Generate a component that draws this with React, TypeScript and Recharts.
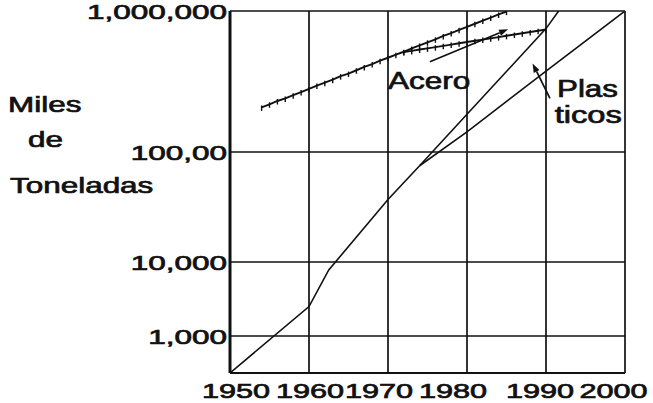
import React from 'react';
import { LineChart, Line, XAxis, YAxis, CartesianGrid, ReferenceLine, ReferenceDot } from 'recharts';

// ---- data (miles de toneladas) ----
const YEAR_TICKS = [1950, 1960, 1970, 1980, 1990, 2000];
const VALUE_TICKS = [1000, 10000, 100000, 1000000];
const VALUE_TICK_LABELS = ['1,000', '10,000', '100,00', '1,000,000'];

const plasticosTronco = [
  { year: 1950, value: 100 },
  { year: 1960, value: 2500 },
  { year: 1962.5, value: 7800 },
  { year: 1970, value: 37000 },
  { year: 1974, value: 75000 },
];
const plasticosAlto = [
  { year: 1974, value: 75000 },
  { year: 1980, value: 185000 },
  { year: 1990, value: 750000 },
  { year: 1991.6, value: 1000000 },
];
const plasticosBajo = [
  { year: 1974, value: 75000 },
  { year: 1980, value: 139000 },
  { year: 1990, value: 375000 },
  { year: 2000, value: 1000000 },
];
const aceroA = [
  { year: 1954, value: 207000 }, { year: 1955, value: 218000 }, { year: 1956, value: 230000 },
  { year: 1957, value: 240000 }, { year: 1958, value: 253000 }, { year: 1959, value: 266000 },
  { year: 1960, value: 280000 }, { year: 1961, value: 296000 }, { year: 1962, value: 310000 },
  { year: 1963, value: 326000 }, { year: 1964, value: 345000 }, { year: 1965, value: 360000 },
  { year: 1966, value: 380000 }, { year: 1967, value: 401000 }, { year: 1968, value: 420000 },
  { year: 1969, value: 444000 }, { year: 1970, value: 466000 }, { year: 1971, value: 490000 },
  { year: 1972, value: 514000 }, { year: 1973, value: 543000 }, { year: 1974, value: 570000 },
  { year: 1975, value: 600000 }, { year: 1976, value: 630000 }, { year: 1977, value: 665000 },
  { year: 1978, value: 698000 }, { year: 1979, value: 735000 }, { year: 1980, value: 773000 },
  { year: 1981, value: 812000 }, { year: 1982, value: 856000 }, { year: 1983, value: 898000 },
  { year: 1984, value: 945000 }, { year: 1985, value: 990000 },
];
const aceroB = [
  { year: 1972, value: 512000 }, { year: 1973, value: 521000 }, { year: 1974, value: 533000 },
  { year: 1975, value: 543000 }, { year: 1976, value: 554000 }, { year: 1977, value: 566000 },
  { year: 1978, value: 578000 }, { year: 1979, value: 590000 }, { year: 1980, value: 603000 },
  { year: 1981, value: 615000 }, { year: 1982, value: 627000 }, { year: 1983, value: 640000 },
  { year: 1984, value: 653000 }, { year: 1985, value: 667000 }, { year: 1986, value: 681000 },
  { year: 1987, value: 695000 }, { year: 1988, value: 710000 }, { year: 1989, value: 724000 },
  { year: 1990, value: 739000 },
];
// annotation arrows [tail, head]
const aceroArrow = [{ year: 1975.3, value: 437000 }, { year: 1985.2, value: 741000 }];
const plasticosArrow = [{ year: 1990.5, value: 240000 }, { year: 1988.3, value: 425000 }];
const annotations = [
  { text: 'Acero', year: 1970.0, value: 282000, sx: 1.37 },
  { text: 'Plas', year: 1991.4, value: 247000, sx: 1.36 },
  { text: 'ticos', year: 1991.1, value: 161000, sx: 1.42 },
];

// ---- uneven logarithmic axis of the original drawing ----
const AXIS_DECADES = [100, 1000, 10000, 100000, 1000000];
const AXIS_STOPS = [0, 37, 111, 221, 362];
function warp(v: number): number {
  const l = Math.log10(v);
  for (let i = 0; i < AXIS_DECADES.length - 1; i++) {
    const a = Math.log10(AXIS_DECADES[i]);
    const b = Math.log10(AXIS_DECADES[i + 1]);
    if (l <= b || i === AXIS_DECADES.length - 2) {
      return AXIS_STOPS[i] + ((l - a) / (b - a)) * (AXIS_STOPS[i + 1] - AXIS_STOPS[i]);
    }
  }
  return 0;
}
const yKey = (d: { value: number }) => warp(d.value);
const FONT = '"Liberation Sans", Arial, Helvetica, sans-serif';
const X_NUDGE = [6, 1, -9, -14, -6, -11.5];
const INK = '#111';
const TEXT_STROKE = 0.7;

const YTick = (props: any) => {
  const { x, y, payload } = props;
  const idx = VALUE_TICKS.map(warp).findIndex((t) => Math.abs(t - payload.value) < 0.01);
  return (
    <text
      transform={`translate(${x} ${y + 8}) scale(1.5 1)`}
      textAnchor="end"
      fontFamily={FONT}
      fontSize={21}
      fill={INK}
      stroke={INK}
      strokeWidth={TEXT_STROKE}
    >
      {idx >= 0 ? VALUE_TICK_LABELS[idx] : ''}
    </text>
  );
};

const XTick = (props: any) => {
  const { x, y, payload, index } = props;
  return (
    <text
      transform={`translate(${x + (X_NUDGE[index] ?? 0)} ${y + 25}) scale(1.46 1)`}
      textAnchor="middle"
      fontFamily={FONT}
      fontSize={21}
      fill={INK}
      stroke={INK}
      strokeWidth={TEXT_STROKE}
    >
      {String(payload.value)}
    </text>
  );
};

const TickDot = (props: any) => {
  const { cx, cy, index } = props;
  if (cx == null || cy == null) return <g key={index} />;
  return <line key={index} x1={cx} y1={cy - 2} x2={cx} y2={cy + 3.5} stroke={INK} strokeWidth={1.4} />;
};

const arrowShape = (props: any) => {
  const { x1, y1, x2, y2 } = props;
  if ([x1, y1, x2, y2].some((v) => v == null || isNaN(v))) return <g />;
  const ang = Math.atan2(y2 - y1, x2 - x1);
  const L = 9;
  const W = 3.2;
  const bx = x2 - L * Math.cos(ang);
  const by = y2 - L * Math.sin(ang);
  const px = -Math.sin(ang) * W;
  const py = Math.cos(ang) * W;
  return (
    <g>
      <line x1={x1} y1={y1} x2={bx} y2={by} stroke={INK} strokeWidth={1.7} />
      <polygon points={`${x2},${y2} ${bx + px},${by + py} ${bx - px},${by - py}`} fill={INK} />
    </g>
  );
};

const TitleLabel = () => (
  <g fontFamily={FONT} fontSize={22} fill={INK} stroke={INK} strokeWidth={TEXT_STROKE}>
    <text transform="translate(8 112) scale(1.43 1)">Miles</text>
    <text transform="translate(28 147) scale(1.43 1)">de</text>
    <text transform="translate(10 193) scale(1.43 1)">Toneladas</text>
  </g>
);

export default function App() {
  return (
    <div style={{ position: 'absolute', left: 0, top: 0, width: 653, height: 403, background: '#fff' }}>
      <LineChart width={653} height={403} margin={{ top: 11, right: 28, bottom: 0, left: 80 }}>
        <CartesianGrid stroke={INK} strokeWidth={1.7} />
        <XAxis
          type="number"
          dataKey="year"
          domain={[1950, 2000]}
          ticks={YEAR_TICKS}
          allowDataOverflow
          height={30}
          tickSize={0}
          tickMargin={0}
          tick={<XTick />}
          axisLine={{ stroke: INK, strokeWidth: 1.8 }}
          interval={0}
        />
        <YAxis
          type="number"
          domain={[0, 362]}
          ticks={VALUE_TICKS.map(warp)}
          allowDataOverflow
          width={150}
          tickSize={0}
          tickMargin={3}
          tick={<YTick />}
          axisLine={{ stroke: INK, strokeWidth: 3 }}
          interval={0}
          label={{ content: <TitleLabel /> }}
        />
        <Line data={plasticosTronco} dataKey={yKey} stroke={INK} strokeWidth={1.6} dot={false} isAnimationActive={false} type="linear" />
        <Line data={plasticosAlto} dataKey={yKey} stroke={INK} strokeWidth={1.6} dot={false} isAnimationActive={false} type="linear" />
        <Line data={plasticosBajo} dataKey={yKey} stroke={INK} strokeWidth={1.6} dot={false} isAnimationActive={false} type="linear" />
        <Line data={aceroA} dataKey={yKey} stroke={INK} strokeWidth={1.9} dot={<TickDot />} isAnimationActive={false} type="linear" />
        <Line data={aceroB} dataKey={yKey} stroke={INK} strokeWidth={1.9} dot={<TickDot />} isAnimationActive={false} type="linear" />
        <ReferenceLine
          segment={aceroArrow.map((p) => ({ x: p.year, y: warp(p.value) }))}
          shape={arrowShape}
          ifOverflow="visible"
        />
        <ReferenceLine
          segment={plasticosArrow.map((p) => ({ x: p.year, y: warp(p.value) }))}
          shape={arrowShape}
          ifOverflow="visible"
        />
        {annotations.map((a) => (
          <ReferenceDot
            key={a.text}
            x={a.year}
            y={warp(a.value)}
            ifOverflow="visible"
            shape={(p: any) => (
              <text
                transform={`translate(${p.cx} ${p.cy}) scale(${a.sx} 1)`}
                fontFamily={FONT}
                fontSize={23}
                fill={INK}
                stroke={INK}
                strokeWidth={TEXT_STROKE}
              >
                {a.text}
              </text>
            )}
          />
        ))}
      </LineChart>
    </div>
  );
}
